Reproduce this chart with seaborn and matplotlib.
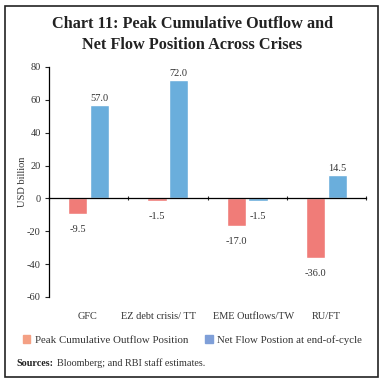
import pandas as pd
import matplotlib
matplotlib.use("Agg")
import matplotlib.pyplot as plt
from matplotlib.patches import Rectangle, Patch
from matplotlib.transforms import ScaledTranslation
import seaborn as sns

#Chart data
categories = ["GFC", "EZ debt crisis/ TT", "EME Outflows/TW", "RU/FT"]
peak_outflow = [-9.5, -1.5, -17.0, -36.0]
net_flow = [57.0, 72.0, -1.5, 14.5]
series_names = ["Peak Cumulative Outflow Position", "Net Flow Postion at end-of-cycle"]
y_ticks = [-60, -40, -20, 0, 20, 40, 60, 80]

bar_colors = ["#F07C78", "#6AAEDC"]
legend_colors = ["#F4A084", "#7F9FD8"]

#Long format table for seaborn
df = pd.DataFrame({
    "category": categories * 2,
    "value": peak_outflow + net_flow,
    "series": [series_names[0]] * 4 + [series_names[1]] * 4,
})

sns.set_style("white")
plt.rcParams["font.family"] = ["Liberation Serif", "DejaVu Serif"]

fig = plt.figure(figsize=(3.85, 3.83), dpi=100)
ax = fig.add_axes([49 / 385, 1 - 297 / 383, 317 / 385, 230 / 383])

sns.barplot(
    data=df, x="category", y="value", hue="series",
    palette=bar_colors, width=0.55, gap=0.12,
    legend=False, ax=ax, saturation=1
)

#Value labels
for cont in ax.containers:
    for p in cont:
        h = p.get_height()
        xc = p.get_x() + p.get_width() / 2
        if h >= 0:
            ax.annotate(f"{h:.1f}", (xc, h), xytext=(0, 1.5), textcoords="offset points",
                        ha="center", va="bottom", fontsize=7.5, color="#333333")
        else:
            ax.annotate(f"{h:.1f}", (xc, h), xytext=(0, -8), textcoords="offset points",
                        ha="center", va="top", fontsize=7.5, color="#333333")

#Axes formatting
ax.set_ylim(-60, 80)
ax.set_xlim(-0.5, 3.5)
ax.set_yticks(y_ticks)
ax.set_yticklabels([str(t) for t in y_ticks], fontsize=7.5, color="#333333")
ax.set_ylabel("USD billion", fontsize=7.5, color="#333333")
ax.yaxis.set_label_coords(-22 / 317, 0.5)
ax.set_xlabel(None)
ax.tick_params(axis="y", direction="out", length=3, width=0.8, left=True, pad=3)

for s in ["top", "right"]:
    ax.spines[s].set_visible(False)
ax.spines["left"].set_color("black")
ax.spines["left"].set_linewidth(0.9)
ax.spines["bottom"].set_position(("data", 0))
ax.spines["bottom"].set_color("black")
ax.spines["bottom"].set_linewidth(0.9)

#Category boundary ticks on the zero line
ax.set_xticks([-0.5, 0.5, 1.5, 2.5, 3.5], labels=[])
ax.tick_params(axis="x", direction="inout", length=3, width=0.8, bottom=True)

#Category labels at the bottom
sec = ax.secondary_xaxis(location=0)
sec.set_xticks(range(len(categories)), labels=categories, fontsize=7.4, color="#333333")
sec.tick_params("x", length=0, pad=11)
sec.spines["bottom"].set_visible(False)

#Nudge the two middle labels apart so they do not touch
label_shift_pt = [-1, -7, 4.5, 0]
for lbl, dx in zip(sec.get_xticklabels(), label_shift_pt):
    lbl.set_transform(lbl.get_transform() + ScaledTranslation(dx / 72, 0, fig.dpi_scale_trans))

#Title
fig.text(0.5, 1 - 24 / 383, "Chart 11: Peak Cumulative Outflow and", ha="center", va="center",
         fontsize=11.7, fontweight="bold", color="#222222")
fig.text(0.5, 1 - 45 / 383, "Net Flow Position Across Crises", ha="center", va="center",
         fontsize=11.7, fontweight="bold", color="#222222")

#Legend
handles = [Patch(color=c, label=n) for c, n in zip(legend_colors, series_names)]
fig.legend(handles=handles, loc="center", bbox_to_anchor=(0.5, 1 - 340 / 383), ncol=2,
           frameon=False, fontsize=7.8, handlelength=0.7, handleheight=0.7,
           handletextpad=0.4, columnspacing=1.6, labelcolor="#333333")

#Sources
fig.text(16 / 385, 1 - 363 / 383, "Sources:", ha="left", va="center", fontsize=7.3,
         fontweight="bold", color="#222222")
fig.text(57 / 385, 1 - 363 / 383, "Bloomberg; and RBI staff estimates.", ha="left",
         va="center", fontsize=7.3, color="#333333")

#Border
fig.patches.append(Rectangle((5 / 385, 6 / 383), 373 / 385, 371 / 383, transform=fig.transFigure,
                             fill=False, edgecolor="#222222", linewidth=1.2))

plt.savefig("out.png", dpi=100)
